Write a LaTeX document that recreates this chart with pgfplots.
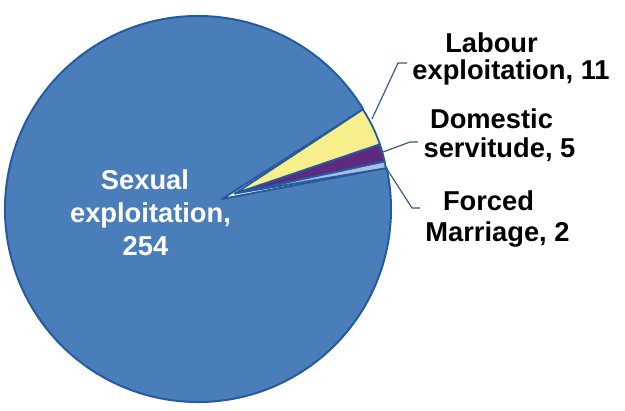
\documentclass[border=0pt]{standalone}
\usepackage{pgfplots}
\pgfplotsset{compat=1.18}
\usepackage{pgfplotstable}
\usetikzlibrary{calc}
\usepackage{fontspec}
\setmainfont{Liberation Sans}

\definecolor{bigblue}{RGB}{74,126,187}
\definecolor{edgeblue}{RGB}{38,90,158}
\definecolor{pieyellow}{RGB}{246,239,140}
\definecolor{piepurple}{RGB}{94,42,128}
\definecolor{pielight}{RGB}{166,190,226}
\definecolor{leader}{RGB}{60,88,140}

\pgfplotstableread{
cat value
Sexual 254
Labour 11
Domestic 5
Forced 2
}\piedata

\pgfplotstablegetelem{0}{value}\of\piedata \let\vSex\pgfplotsretval
\pgfplotstablegetelem{1}{value}\of\piedata \let\vLab\pgfplotsretval
\pgfplotstablegetelem{2}{value}\of\piedata \let\vDom\pgfplotsretval
\pgfplotstablegetelem{3}{value}\of\piedata \let\vFor\pgfplotsretval
\pgfmathsetmacro\total{\vSex+\vLab+\vDom+\vFor}
\pgfmathsetmacro\aA{9.5}
\pgfmathsetmacro\aB{\aA+360*\vFor/\total}
\pgfmathsetmacro\aC{\aB+360*\vDom/\total}
\pgfmathsetmacro\aD{\aC+360*\vLab/\total}

\newcommand\lbl{\fontsize{13.65}{16}\selectfont\bfseries}

\begin{document}
\begin{tikzpicture}
\begin{axis}[
  width=312.5pt, height=205.5pt, scale only axis,
  xmin=0, xmax=625, ymin=0, ymax=411, y dir=reverse,
  hide axis, clip=false]
% big slice (Sexual exploitation)
\filldraw[fill=bigblue, draw=edgeblue, line width=1pt, line join=round]
  (axis cs:222,199) -- ($(axis cs:198,209)+(31.1:96.5pt)$)
  arc[start angle=31.1, end angle=372.3, radius=96.5pt] -- cycle;
% small slices
\filldraw[fill=pielight, draw=edgeblue, line width=0.9pt, line join=round]
  (axis cs:235,193.5) -- ++(\aA:76.5pt) arc[start angle=\aA, end angle=\aB, radius=76.5pt] -- cycle;
\filldraw[fill=piepurple, draw=edgeblue, line width=0.9pt, line join=round]
  (axis cs:235,193.5) -- ++(\aB:76.5pt) arc[start angle=\aB, end angle=\aC, radius=76.5pt] -- cycle;
\filldraw[fill=pieyellow, draw=edgeblue, line width=0.9pt, line join=round]
  (axis cs:235,193.5) -- ++(\aC:76.5pt) arc[start angle=\aC, end angle=\aD, radius=76.5pt] -- cycle;
% leader lines
\draw[leader, line width=0.6pt] (axis cs:372,119) -- (axis cs:398,63) -- (axis cs:407,63);
\draw[leader, line width=0.6pt] (axis cs:383,152) -- (axis cs:410,142) -- (axis cs:418,142);
\draw[leader, line width=0.6pt] (axis cs:385,166) -- (axis cs:412,208) -- (axis cs:420,208);
% labels
\node[anchor=base, font=\lbl] at (axis cs:491.5,53) {Labour};
\node[anchor=base, font=\lbl] at (axis cs:511,80) {exploitation, \vLab};
\node[anchor=base, font=\lbl] at (axis cs:491.5,129) {Domestic};
\node[anchor=base, font=\lbl] at (axis cs:499.5,158) {servitude, \vDom};
\node[anchor=base, font=\lbl] at (axis cs:488.5,211) {Forced};
\node[anchor=base, font=\lbl] at (axis cs:497.5,241) {Marriage, \vFor};
\node[anchor=base, font=\lbl, text=white] at (axis cs:145,190) {Sexual};
\node[anchor=base, font=\lbl, text=white] at (axis cs:150.5,222) {exploitation,};
\node[anchor=base, font=\lbl, text=white] at (axis cs:145.5,255) {\vSex};
\end{axis}
\pgfresetboundingbox
\path (current axis.south west) rectangle (current axis.north east);
\end{tikzpicture}
\end{document}
